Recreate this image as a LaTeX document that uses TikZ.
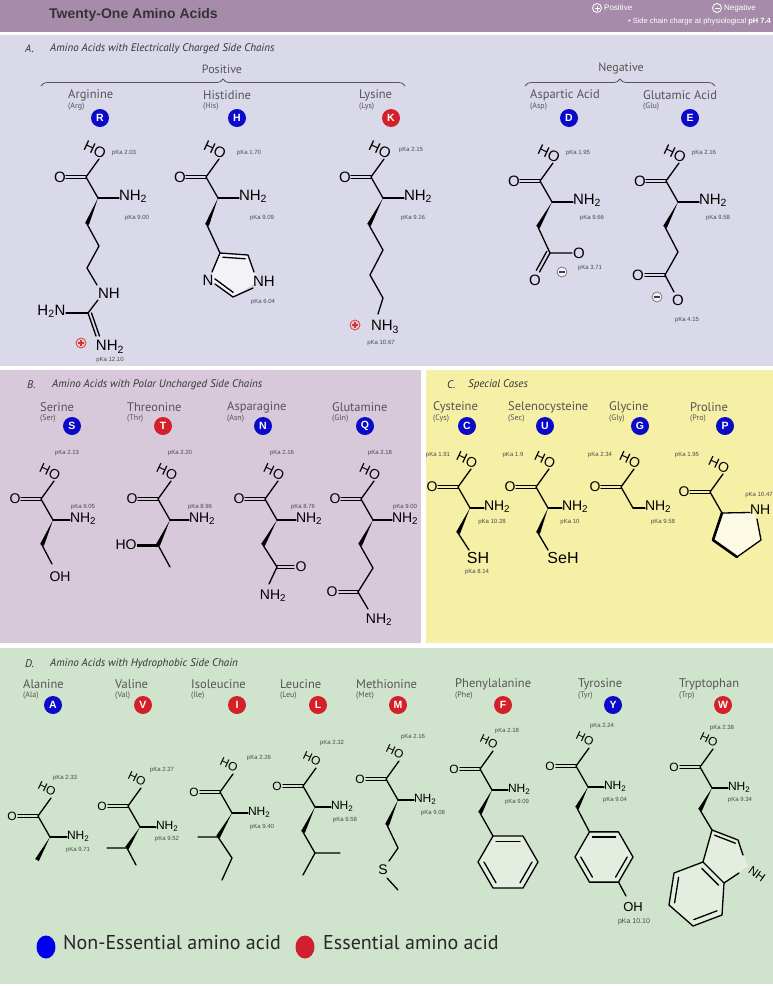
\documentclass[tikz,border=0pt]{standalone}
\usepackage{fontspec}
\setmainfont{PT Sans}
\newfontfamily\arialf{Liberation Sans}
\usetikzlibrary{calc,decorations.pathreplacing,shapes.geometric}
\definecolor{hdr}{HTML}{A68CAA}
\definecolor{secA}{HTML}{D9D9E9}
\definecolor{secB}{HTML}{D7C8DA}
\definecolor{secC}{HTML}{F6EFA6}
\definecolor{secD}{HTML}{D0E3CC}
\definecolor{nblue}{HTML}{0A0AC8}
\definecolor{ered}{HTML}{D42028}
\definecolor{namegray}{HTML}{555555}
\definecolor{pkgray}{HTML}{4A4A4A}
\definecolor{chgred}{HTML}{C83838}
\definecolor{chgpink}{HTML}{F2C8C8}
\definecolor{legblue}{HTML}{0000EE}
\definecolor{legred}{HTML}{D02030}
\def\molsz{15}
\def\ringfill{white}
\tikzset{
 bond/.style={line width=1.3pt, line cap=round, line join=round},
 mol/.style={font=\arialf\fontsize{\molsz}{\molsz}\selectfont, inner sep=0.3pt},
 pk/.style={font=\arialf\fontsize{6}{6}\selectfont, text=pkgray, inner sep=0pt},
 aname/.style={font=\fontsize{12.5}{13}\selectfont, text=namegray, anchor=west, inner sep=0pt},
 abbr/.style={font=\fontsize{8}{8}\selectfont, text=namegray, anchor=west, inner sep=0pt},
 letterB/.style={circle, fill=nblue, minimum size=18pt, inner sep=0pt, text=white, font=\arialf\bfseries\fontsize{10.5}{10.5}\selectfont},
 letterR/.style={letterB, fill=ered},
 sectitle/.style={font=\itshape\fontsize{11}{11}\selectfont, text=black!80, anchor=west, inner sep=0pt},
 grp/.style={font=\fontsize{12}{12}\selectfont, text=namegray, inner sep=0pt},
}
% wedge bond: narrow at #1, wide at #2
\newcommand\wdg[2]{\fill ($(#1)$) -- ($(#2)!2.1pt!90:(#1)$) -- ($(#2)!2.1pt!-90:(#1)$) -- cycle;}
% inner line of a double bond, moved toward ring centre #3
\newcommand\innerb[3]{\draw[bond] ($(#1)!0.2!(#3)$) -- ($(#2)!0.2!(#3)$);}
% carboxyl group on C-alpha at (#2,#3)
\newcommand\acid[3]{%
\begin{scope}[shift={(#2,#3)}]
\draw[bond] (0,0) -- (-12,-21) -- (1,-39);
\draw[bond] (-12,-22.6) -- (-32,-22.6) (-12,-19.4) -- (-32,-19.4);
\node[mol] (#1-O) at (-38,-21) {O};
\node[mol,rotate=-25] (#1-HO) at (-3,-48) {HO};
\end{scope}}
% amine on C-alpha
\newcommand\amine[4]{%
\begin{scope}[shift={(#2,#3)}]
\draw[bond] (0,0) -- (#4,0);
\node[mol,anchor=mid west] (#1-N) at (#4-0.5,0) {NH\textsubscript{2}};
\end{scope}}
\newcommand\pka[4]{\node[pk] (#1) at (#2,#3) {pKa #4};}
\newcommand\aalabel[9]{%
\node[aname] (n-#1) at (#4,#5) {#2};
\node[abbr] (ab-#1) at (#4,#5+12) {(#3)};
\node[#9] (L-#1) at (#6,#7) {#8};}
\newcommand\pluschg[3]{%
\node[circle,draw=chgred,fill=chgpink,line width=0.7pt,minimum size=10pt,inner sep=0pt] (#1) at (#2,#3) {};
\draw[chgred,line width=1.1pt] (#2-2.8,#3) -- (#2+2.8,#3) (#2,#3-2.8) -- (#2,#3+2.8);}
\newcommand\minuschg[3]{%
\node[circle,draw=black!55,fill=white!60!secA,line width=0.7pt,minimum size=10pt,inner sep=0pt] (#1) at (#2,#3) {};
\draw[black!75,line width=1.3pt] (#2-2.8,#3) -- (#2+2.8,#3);}
% flat-top benzene ring
\newcommand\hexring[4]{%
\coordinate (#1-c) at (#2,#3);
\draw[bond,fill=\ringfill] (#2+#4,#3) \foreach \a in {60,120,...,300}{ -- ({#2+#4*cos(\a)},{#3-#4*sin(\a)})} -- cycle;
\foreach \a in {60,180,300}{\draw[bond] ({#2+0.8*#4*cos(\a)},{#3-0.8*#4*sin(\a)}) -- ({#2+0.8*#4*cos(\a+60)},{#3-0.8*#4*sin(\a+60)});}}
\begin{document}
\begin{tikzpicture}[x=1pt,y=-1pt]
\useasboundingbox (0,0) rectangle (773,986);
\fill[white] (0,0) rectangle (773,986);
\fill[hdr] (0,0) rectangle (773,32);
\fill[secA] (0,35) rectangle (773,366);
\fill[secB] (0,370) rectangle (421,643);
\fill[secC] (426,370) rectangle (773,643);
\fill[secD] (0,648) rectangle (773,984);
% ---------------- header
\node[font=\arialf\bfseries\fontsize{14}{14}\selectfont, text=black!80, anchor=west, inner sep=0pt] (title) at (49,15) {Twenty-One Amino Acids};
\node[circle,draw=white,line width=0.8pt,minimum size=9pt,inner sep=0pt] (hpos) at (597,8) {};
\draw[white,line width=1pt] (594.5,8) -- (599.5,8) (597,5.5) -- (597,10.5);
\node[font=\arialf\fontsize{8}{8}\selectfont, text=white, anchor=west, inner sep=0pt] (hposT) at (604,8) {Positive};
\node[circle,draw=white,line width=0.8pt,minimum size=9pt,inner sep=0pt] (hneg) at (717,8) {};
\draw[white,line width=1pt] (714.5,8) -- (719.5,8);
\node[font=\arialf\fontsize{8}{8}\selectfont, text=white, anchor=west, inner sep=0pt] (hnegT) at (724,8) {Negative};
\node[font=\arialf\fontsize{7.5}{7.5}\selectfont, text=white, anchor=east, inner sep=0pt] (hnote) at (771,22) {\textbullet\ Side chain charge at physiological \textbf{pH 7.4}};
% ---------------- section A
\node[sectitle] (tA1) at (25,49) {A.};
\node[sectitle] (tA2) at (50,49) {Amino Acids with Electrically Charged Side Chains};
\node[grp] (gpos) at (222,69) {Positive};
\node[grp] (gneg) at (621,69) {Negative};
\draw[decorate,decoration={brace,amplitude=7pt},namegray,line width=0.8pt] (41,86) -- (405,86);
\draw[decorate,decoration={brace,amplitude=7pt},namegray,line width=0.8pt] (525,86) -- (715,86);
\aalabel{arg}{Arginine}{Arg}{68}{95}{100}{118}{R}{letterB}
\aalabel{his}{Histidine}{His}{203}{95}{237}{118}{H}{letterB}
\aalabel{lys}{Lysine}{Lys}{359}{95}{391}{118}{K}{letterR}
\aalabel{asp}{Aspartic Acid}{Asp}{530}{95}{569}{118}{D}{letterB}
\aalabel{glu}{Glutamic Acid}{Glu}{643}{95}{690}{118}{E}{letterB}
% Arginine
\acid{arg}{98}{198}\amine{arg}{98}{198}{21}
\wdg{98,198}{87,224}
\draw[bond] (87,224) -- (99,246) -- (87,268) -- (97,285);
\node[mol] (arg-NH) at (109,293) {NH};
\draw[bond] (98,300) -- (88,313);
\node[mol,anchor=mid east] (arg-H2N) at (66,313) {H\textsubscript{2}N};
\draw[bond] (66,313) -- (88,313);
\draw[bond] (88,313) -- (96,336);
\draw[bond] (91.5,313) -- (99.5,336);
\node[mol] (arg-NH2b) at (110,347) {NH\textsubscript{2}};
\pluschg{arg-plus}{81}{343}
\pka{pk-arg1}{124}{153}{2.03}\pka{pk-arg2}{137}{218}{9.00}\pka{pk-arg3}{110}{360}{12.10}
% Histidine
\acid{his}{218}{198}\amine{his}{218}{198}{21}
\wdg{218,198}{207,225}
\draw[bond] (207,225) -- (220,253);
\coordinate (hc4) at (220,253); \coordinate (hc5) at (248,255); \coordinate (hn1) at (258,281);
\coordinate (hc2) at (233,297); \coordinate (hn3) at (210,280); \coordinate (hcen) at (234,274);
\fill[white!65!secA] (hc4) -- (hc5) -- (hn1) -- (hc2) -- (hn3) -- cycle;
\draw[bond] (hc4) -- (hc5) -- (254,272);
\draw[bond] (253,288) -- (hc2) -- (215,284);
\draw[bond] (212,272) -- (hc4);
\innerb{hc4}{hc5}{hcen}
\innerb{hc2}{hn3}{hcen}
\node[mol] (his-N3) at (208,280) {N};
\node[mol] (his-N1) at (264,281) {NH};
\pka{pk-his1}{249}{153}{1.70}\pka{pk-his2}{262}{218}{9.09}\pka{pk-his3}{263}{302}{6.04}
% Lysine
\acid{lys}{383}{198}\amine{lys}{383}{198}{21}
\wdg{383,198}{369,225}
\draw[bond] (369,225) -- (383,250) -- (370,275) -- (383,298) -- (378,314);
\node[mol] (lys-N) at (385,327) {NH\textsubscript{3}};
\pluschg{lys-plus}{355}{325}
\pka{pk-lys1}{411}{150}{2.15}\pka{pk-lys2}{413}{218}{9.16}\pka{pk-lys3}{381}{343}{10.67}
% Aspartic acid
\acid{asp}{552}{202}\amine{asp}{552}{202}{21}
\wdg{552,202}{538,227}
\draw[bond] (538,227) -- (550,253) -- (572,253);
\node[mol] (asp-O1) at (579,253) {O};
\draw[bond] (550,253) -- (539.5,272) (546.8,251.3) -- (536.3,270.3);
\node[mol] (asp-O2) at (535,280) {O};
\minuschg{asp-minus}{562}{272}
\pka{pk-asp1}{578}{153}{1.95}\pka{pk-asp2}{592}{218}{9.66}\pka{pk-asp3}{590}{268}{3.71}
% Glutamic acid
\acid{glu}{678}{202}\amine{glu}{678}{202}{21}
\wdg{678,202}{665,227}
\draw[bond] (665,227) -- (678,252) -- (665,275);
\draw[bond] (665,273.4) -- (645,273.4) (665,276.6) -- (645,276.6);
\node[mol] (glu-O1) at (638,275) {O};
\draw[bond] (665,275) -- (674,292);
\node[mol] (glu-O2) at (678,300) {O};
\minuschg{glu-minus}{657}{297}
\pka{pk-glu1}{704}{153}{2.16}\pka{pk-glu2}{718}{218}{9.58}\pka{pk-glu3}{687}{320}{4.15}
% ---------------- section B
\def\molsz{14}
\node[sectitle] (tB1) at (27,385) {B.};
\node[sectitle] (tB2) at (52,385) {Amino Acids with Polar Uncharged Side Chains};
\aalabel{ser}{Serine}{Ser}{40}{407}{72}{426}{S}{letterB}
\aalabel{thr}{Threonine}{Thr}{127}{407}{163}{426}{T}{letterR}
\aalabel{asn}{Asparagine}{Asn}{227}{407}{263}{426}{N}{letterB}
\aalabel{gln}{Glutamine}{Gln}{332}{407}{365}{426}{Q}{letterB}
% Serine
\acid{ser}{53}{520}\amine{ser}{53}{520}{17}
\wdg{53,520}{42,545}
\draw[bond] (42,545) -- (52,564);
\node[mol] (ser-OH) at (60,577) {OH};
\pka{pk-ser1}{67}{453}{2.13}\pka{pk-ser2}{83}{507}{9.05}
% Threonine
\acid{thr}{170}{520}\amine{thr}{170}{520}{19}
\wdg{170,520}{158,545}
\draw[line width=3pt] (158,545) -- (137,545);
\node[mol,anchor=east] (thr-OH) at (137,545) {HO};
\draw[bond] (158,545) -- (170,567);
\pka{pk-thr1}{180}{453}{2.20}\pka{pk-thr2}{200}{507}{8.96}
% Asparagine
\acid{asn}{277}{520}\amine{asn}{277}{520}{19}
\wdg{277,520}{263,545}
\draw[bond] (263,545) -- (277,567);
\draw[bond] (277,565.4) -- (294,565.4) (277,568.6) -- (294,568.6);
\node[mol] (asn-O2) at (301,567) {O};
\draw[bond] (277,567) -- (269,584);
\node[mol] (asn-N2) at (273,596) {NH\textsubscript{2}};
\pka{pk-asn1}{282}{453}{2.16}\pka{pk-asn2}{303}{507}{8.76}
% Glutamine
\acid{gln}{373}{520}\amine{gln}{373}{520}{19}
\wdg{373,520}{360,545}
\draw[bond] (360,545) -- (373,568) -- (358,592);
\draw[bond] (358,590.4) -- (339,590.4) (358,593.6) -- (339,593.6);
\node[mol] (gln-O2) at (332,592) {O};
\draw[bond] (358,592) -- (368,609);
\node[mol] (gln-N2) at (379,620) {NH\textsubscript{2}};
\pka{pk-gln1}{380}{453}{2.18}\pka{pk-gln2}{405}{507}{9.00}
% ---------------- section C
\node[sectitle] (tC1) at (447,385) {C.};
\node[sectitle] (tC2) at (468,385) {Special Cases};
\aalabel{cys}{Cysteine}{Cys}{433}{407}{467}{426}{C}{letterB}
\aalabel{sec}{Selenocysteine}{Sec}{508}{407}{545}{426}{U}{letterB}
\aalabel{gly}{Glycine}{Gly}{609}{407}{640}{426}{G}{letterB}
\aalabel{pro}{Proline}{Pro}{690}{407}{725}{426}{P}{letterB}
% Cysteine
\acid{cys}{470}{508}\amine{cys}{470}{508}{14}
\wdg{470,508}{458,533}
\draw[bond] (458,533) -- (469,550);
\node[mol,font=\arialf\fontsize{16}{16}\selectfont] (cys-SH) at (478,558) {SH};
\pka{pk-cys1}{438}{455}{1.91}\pka{pk-cys2}{492}{522}{10.28}\pka{pk-cys3}{477}{572}{8.14}
% Selenocysteine
\acid{sec}{548}{508}\amine{sec}{548}{508}{14}
\wdg{548,508}{538,533}
\draw[bond] (538,533) -- (548,550);
\node[mol,font=\arialf\fontsize{16}{16}\selectfont] (sec-SeH) at (563,558) {SeH};
\pka{pk-sec1}{513}{455}{1.9}\pka{pk-sec2}{570}{522}{10}
% Glycine
\acid{gly}{633}{508}\amine{gly}{633}{508}{12}
\pka{pk-gly1}{600}{455}{2.34}\pka{pk-gly2}{663}{522}{9.58}
% Proline
\acid{pro}{722}{513}
\coordinate (pca) at (722,513); \coordinate (pn) at (754,512); \coordinate (pc5) at (761,540);
\coordinate (pc4) at (737,557); \coordinate (pc3) at (713,540);
\fill[white!70!secC] (pca) -- (pn) -- (pc5) -- (pc4) -- (pc3) -- cycle;
\draw[bond] (pca) -- (750,512.5);
\draw[bond] (757,519) -- (pc5) -- (pc4);
\draw[line width=2.6pt,line join=round,line cap=round] (pc4) -- (pc3) -- (pca);
\node[mol,anchor=mid west] (pro-NH) at (749.5,512) {NH};
\pka{pk-pro1}{687}{455}{1.95}\pka{pk-pro2}{759}{495}{10.47}
% ---------------- section D
\def\molsz{12}
\def\ringfill{white!40!secD}
\node[sectitle] (tD1) at (25,664) {D.};
\node[sectitle] (tD2) at (50,664) {Amino Acids with Hydrophobic Side Chain};
\aalabel{ala}{Alanine}{Ala}{23}{684}{53}{705}{A}{letterB}
\aalabel{val}{Valine}{Val}{115}{684}{143}{705}{V}{letterR}
\aalabel{ile}{Isoleucine}{Ile}{191}{684}{237}{705}{I}{letterR}
\aalabel{leu}{Leucine}{Leu}{280}{684}{318}{705}{L}{letterR}
\aalabel{met}{Methionine}{Met}{356}{684}{398}{705}{M}{letterR}
\aalabel{phe}{Phenylalanine}{Phe}{455}{684}{503}{705}{F}{letterR}
\aalabel{tyr}{Tyrosine}{Tyr}{578}{684}{613}{705}{Y}{letterB}
\aalabel{trp}{Tryptophan}{Trp}{679}{684}{723}{705}{W}{letterR}
% Alanine
\acid{ala}{50}{837}\amine{ala}{50}{837}{17}
\wdg{50,837}{37,860}
\pka{pk-ala1}{65}{778}{2.33}\pka{pk-ala2}{78}{850}{9.71}
% Valine
\acid{val}{140}{827}\amine{val}{140}{827}{16}
\wdg{140,827}{127,848}
\draw[bond] (107,848) -- (127,848) -- (136,865);
\pka{pk-val1}{162}{770}{2.27}\pka{pk-val2}{167}{839}{9.52}
% Isoleucine
\acid{ile}{232}{813}\amine{ile}{232}{813}{16}
\wdg{232,813}{218,837}
\draw[bond] (198,837) -- (218,837) -- (232,858) -- (222,880);
\pka{pk-ile1}{259}{758}{2.26}\pka{pk-ile2}{262}{827}{9.40}
% Leucine
\acid{leu}{315}{807}\amine{leu}{315}{807}{16}
\wdg{315,807}{303,832}
\draw[bond] (303,832) -- (315,853) -- (340,853) (315,853) -- (303,875);
\pka{pk-leu1}{332}{743}{2.32}\pka{pk-leu2}{345}{820}{9.58}
% Methionine
\acid{met}{398}{800}\amine{met}{398}{800}{16}
\wdg{398,800}{387,825}
\draw[bond] (387,825) -- (398,848) -- (389,861);
\node[mol,font=\arialf\fontsize{14}{14}\selectfont] (met-S) at (383,870) {S};
\draw[bond] (387,878) -- (398,890);
\pka{pk-met1}{413}{737}{2.16}\pka{pk-met2}{433}{813}{9.08}
% Phenylalanine
\acid{phe}{492}{790}\amine{phe}{492}{790}{16}
\wdg{492,790}{480,813}
\draw[bond] (480,813) -- (493,836);
\hexring{phe-ring}{508}{862}{30}
\pka{pk-phe1}{507}{731}{2.18}\pka{pk-phe2}{517}{802}{9.09}
% Tyrosine
\acid{tyr}{588}{787}\amine{tyr}{588}{787}{16}
\wdg{588,787}{577,808}
\draw[bond] (577,808) -- (589.5,832);
\hexring{tyr-ring}{604}{857}{29}
\draw[bond] (618.5,882) -- (626,896);
\node[mol,font=\arialf\fontsize{13}{13}\selectfont] (tyr-OH) at (633,907) {OH};
\pka{pk-tyr1}{602}{726}{2.24}\pka{pk-tyr2}{615}{800}{9.04}
\node[pk,font=\arialf\fontsize{7}{7}\selectfont] (pk-tyr3) at (634,922) {pKa 10.10};
% Tryptophan
\acid{trp}{712}{788}\amine{trp}{712}{788}{16}
\wdg{712,788}{700,810}
\draw[bond] (700,810) -- (712,830);
\coordinate (t3) at (712,830); \coordinate (t2) at (738,840); \coordinate (t1) at (748,866);
\coordinate (t7a) at (724,883); \coordinate (t3a) at (703,862); \coordinate (t4) at (674,873);
\coordinate (t5) at (669,905); \coordinate (t6) at (693,926); \coordinate (t7) at (722,915);
\coordinate (tpc) at (725,856); \coordinate (tbc) at (697,894);
\fill[\ringfill] (t3) -- (t2) -- (t1) -- (t7a) -- (t7) -- (t6) -- (t5) -- (t4) -- (t3a) -- cycle;
\draw[bond] (t3a) -- (t3) -- (t2) -- (743,855);
\draw[bond] (739,873) -- (t7a) -- (t3a) -- (t4) -- (t5) -- (t6) -- (t7) -- (t7a);
\innerb{t3}{t2}{tpc}
\innerb{t4}{t5}{tbc}
\innerb{t6}{t7}{tbc}
\innerb{t7a}{t3a}{tbc}
\node[mol,rotate=-35] (trp-NH) at (757,874) {NH};
\pka{pk-trp1}{722}{728}{2.38}\pka{pk-trp2}{740}{800}{9.34}
% ---------------- legend
\node[ellipse,fill=legblue,minimum width=19pt,minimum height=23pt,inner sep=0pt] (legB) at (46,947) {};
\node[anchor=mid west,inner sep=0pt,font=\fontsize{20}{20}\selectfont,text=black!85] (legBT) at (63,947) {Non-Essential amino acid};
\node[ellipse,fill=legred,minimum width=19pt,minimum height=23pt,inner sep=0pt] (legR) at (305,947) {};
\node[anchor=mid west,inner sep=0pt,font=\fontsize{20}{20}\selectfont,text=black!85] (legRT) at (323,947) {Essential amino acid};
\end{tikzpicture}
\end{document}
